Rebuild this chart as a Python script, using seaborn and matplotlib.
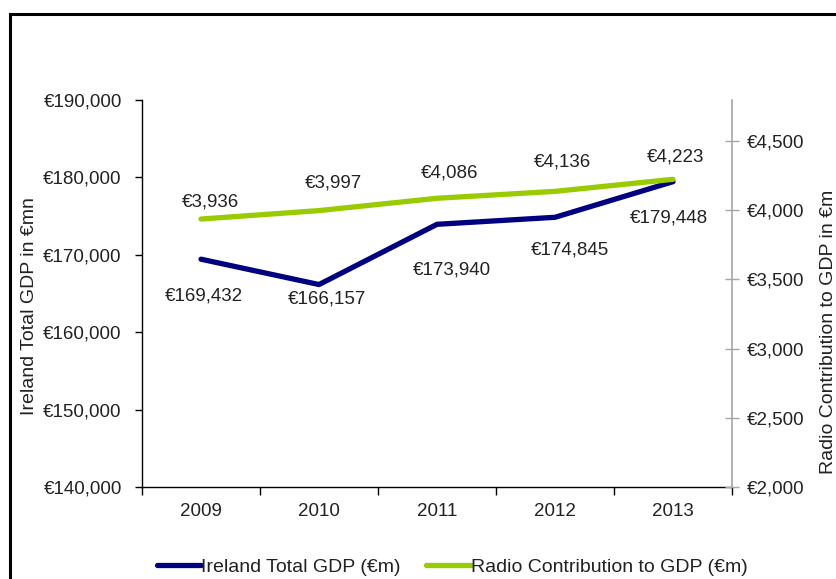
import matplotlib
matplotlib.use("Agg")
import matplotlib.pyplot as plt
from matplotlib.patches import Rectangle
from matplotlib.ticker import FuncFormatter, FixedLocator
import seaborn as sns
import pandas as pd
import numpy as np

# ---- data ----
years = ["2009", "2010", "2011", "2012", "2013"]
gdp_total = [169432, 166157, 173940, 174845, 179448]
radio_contrib = [3936, 3997, 4086, 4136, 4223]
gdp_label = "Ireland Total GDP (€m)"
radio_label = "Radio Contribution to GDP (€m)"
left_ylabel = "Ireland Total GDP in €mn"
right_ylabel = "Radio Contribution to GDP in €m"

# label offsets in pixels (style only)
gdp_offsets = [(3, -37), (8, -14), (15, -46), (15, -33), (-4, -36)]
radio_offsets = [(9, 17), (14, 28), (13, 25), (7, 29), (3, 22)]

NAVY = "#000080"
GREEN = "#99CC00"
GRAY = "#A6A6A6"

sns.set_theme(style="white")
plt.rcParams["font.family"] = ["Liberation Sans", "DejaVu Sans"]
FS = 13.5

W, H = 837, 579
fig = plt.figure(figsize=(W / 100, H / 100), dpi=100)
fig.patch.set_facecolor("white")

x0, x1, y0, y1 = 142, 732, 100, 487
ax = fig.add_axes([x0 / W, 1 - y1 / H, (x1 - x0) / W, (y1 - y0) / H])
ax2 = ax.twinx()

df = pd.DataFrame({"idx": np.arange(len(years)), "gdp": gdp_total, "radio": radio_contrib})

sns.lineplot(data=df, x="idx", y="gdp", ax=ax, color=NAVY, linewidth=3.8,
             label=gdp_label, legend=False)
sns.lineplot(data=df, x="idx", y="radio", ax=ax2, color=GREEN, linewidth=3.8,
             label=radio_label, legend=False)
for l in ax.lines + ax2.lines:
    l.set_solid_capstyle("round")
    l.set_solid_joinstyle("round")

ax.set_xlim(-0.5, len(years) - 0.5)
ax.set_ylim(140000, 190000)
ax2.set_ylim(2000, 4796)

euro = FuncFormatter(lambda v, p: "€{:,.0f}".format(v))
ax.yaxis.set_major_locator(FixedLocator(np.arange(140000, 190001, 10000)))
ax.yaxis.set_major_formatter(euro)
ax2.yaxis.set_major_locator(FixedLocator(np.arange(2000, 4501, 500)))
ax2.yaxis.set_major_formatter(euro)

# category ticks at boundaries, labels centered
ax.xaxis.set_major_locator(FixedLocator(np.arange(-0.5, len(years), 1.0)))
ax.xaxis.set_minor_locator(FixedLocator(np.arange(len(years))))
ax.set_xticklabels([""] * (len(years) + 1))
ax.set_xticklabels(years, minor=True)
ax.tick_params(axis="x", which="major", direction="out", length=6, width=1, color="black", bottom=True)
ax.tick_params(axis="x", which="minor", length=0, pad=11.5, labelsize=FS, labelcolor="#222222", bottom=True)
ax.tick_params(axis="y", direction="out", length=5, width=1, color="black", left=True,
               labelsize=FS, labelcolor="#222222", pad=9.6)
ax2.tick_params(axis="y", direction="inout", length=10, width=1, color=GRAY, right=True,
                labelsize=FS, labelcolor="#222222", pad=6)

for s in ["top", "right"]:
    ax.spines[s].set_visible(False)
ax.spines["left"].set_color("black")
ax.spines["bottom"].set_color("black")
ax.spines["left"].set_linewidth(1)
ax.spines["bottom"].set_linewidth(1)
for s in ["top", "left", "bottom"]:
    ax2.spines[s].set_visible(False)
ax2.spines["right"].set_color(GRAY)
ax2.spines["right"].set_linewidth(1.2)
ax.set_xlabel("")
ax.set_ylabel("")
ax2.set_ylabel("")

# data labels
for i, (v, off) in enumerate(zip(gdp_total, gdp_offsets)):
    ax.annotate("€{:,}".format(v), (i, v), xytext=off, textcoords="offset pixels",
                ha="center", va="center", fontsize=FS, color="#222222")
for i, (v, off) in enumerate(zip(radio_contrib, radio_offsets)):
    ax2.annotate("€{:,}".format(v), (i, v), xytext=off, textcoords="offset pixels",
                 ha="center", va="center", fontsize=FS, color="#222222")

# axis titles
fig.text(30 / W, 1 - 306 / H, left_ylabel, rotation=90, ha="center", va="center",
         fontsize=14, color="#222222")
fig.text(829 / W, 1 - 332 / H, right_ylabel, rotation=90, ha="center", va="center",
         fontsize=14, color="#222222")

# legend
handles = ax.lines[:1] + ax2.lines[:1]
leg = fig.legend(handles, [gdp_label, radio_label], loc="center",
                 bbox_to_anchor=(452 / W, 1 - 567 / H), ncol=2, frameon=False,
                 fontsize=14, handlelength=2.3, handletextpad=0.0, columnspacing=1.3)
for t in leg.get_texts():
    t.set_color("#222222")

# outer frame
fig.add_artist(Rectangle((10 / W, -0.2), 2.0, 1.2 - 13.5 / H, transform=fig.transFigure,
                         fill=False, edgecolor="black", linewidth=2.2))

fig.savefig("out.png", dpi=100)
